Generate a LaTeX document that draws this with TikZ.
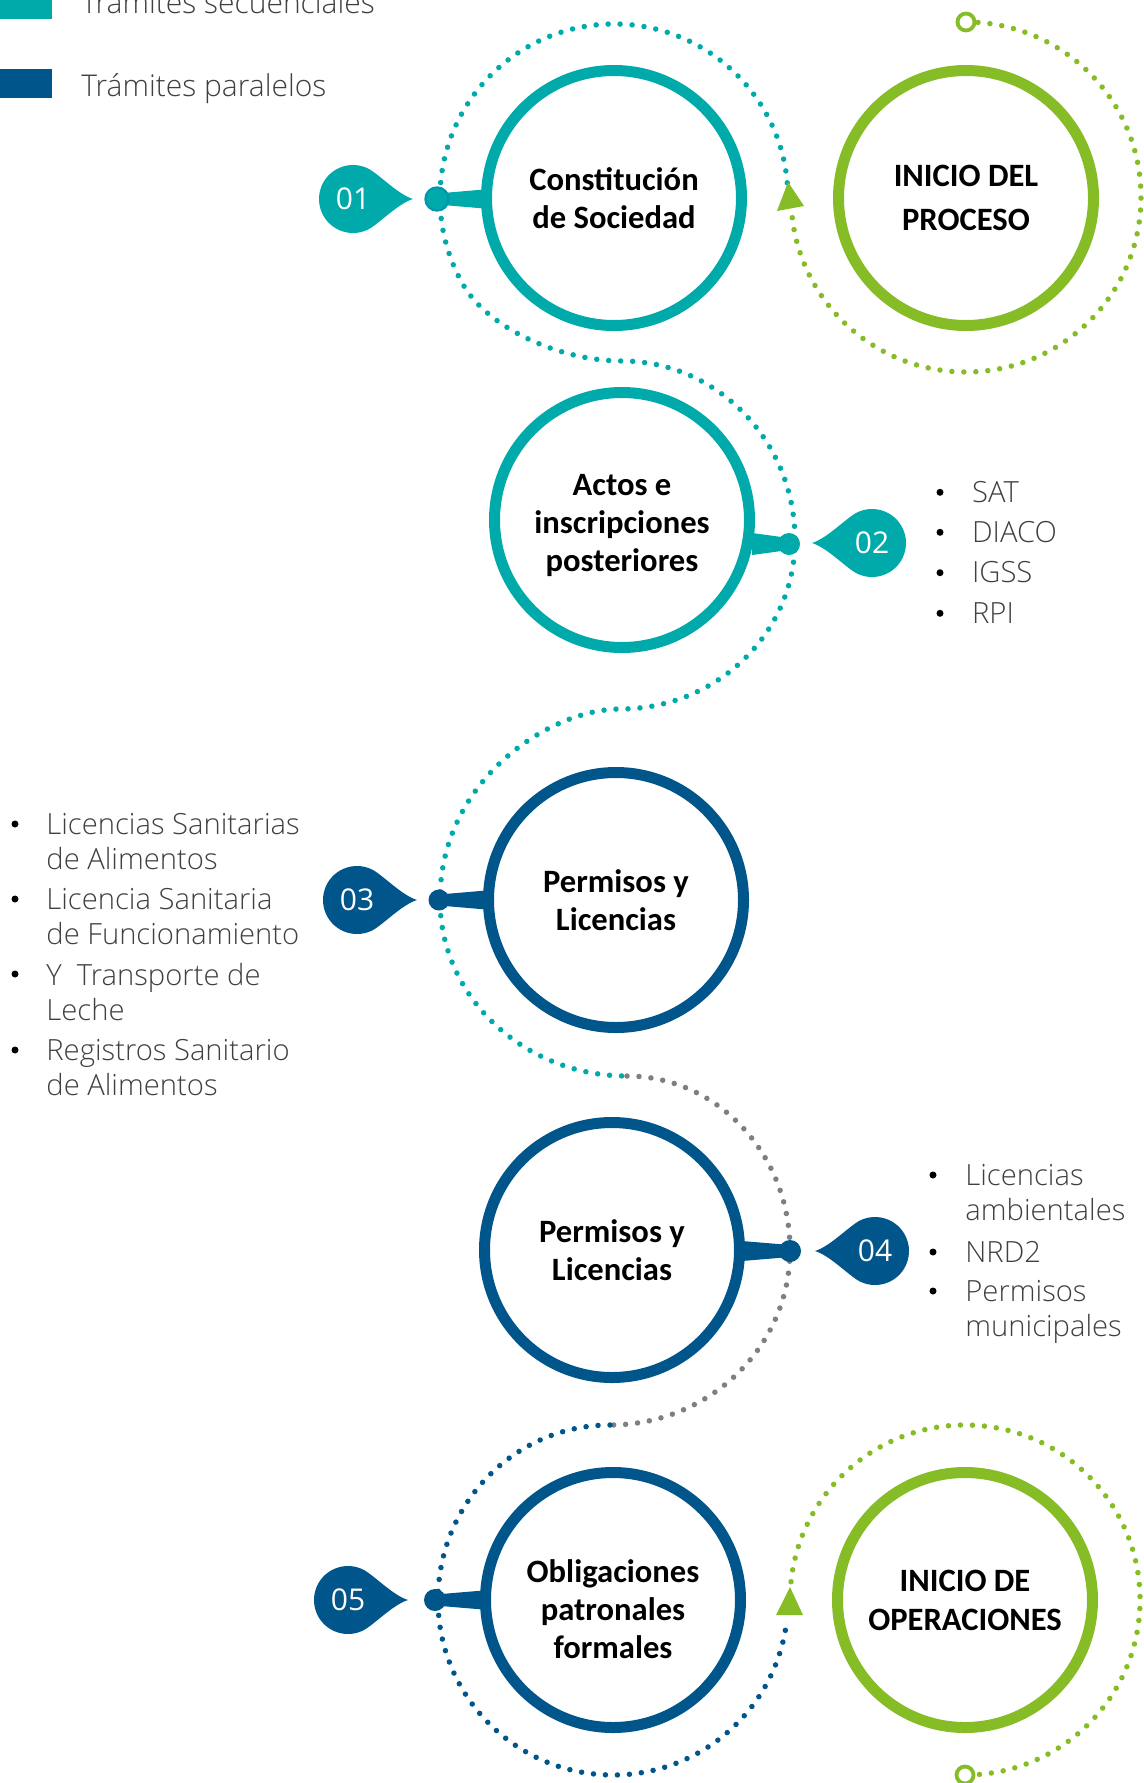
\documentclass[tikz,border=0pt]{standalone}
\usepackage{fontspec}
\setmainfont{Open Sans}
\newfontfamily\calibfont{Carlito}
\IfFontExistsTF{Open Sans Light}{\newfontfamily\lightfont{Open Sans Light}}{\newfontfamily\lightfont{Open Sans}}
\definecolor{tealc}{HTML}{00AAAA}
\definecolor{tealdk}{HTML}{0098AE}
\definecolor{bluec}{HTML}{00558A}
\definecolor{greenc}{HTML}{86BC25}
\definecolor{grayc}{HTML}{7F7F7F}
\definecolor{textc}{HTML}{404040}
\newcommand\drawpin[4]{%
  \fill[#4, shift={(#1,#2)}, xscale=#3] (60,0) .. controls (44,-5) and (25.3,-25.7) .. (14.37,-30.81)
    arc[start angle=-65, end angle=-295, radius=34]
    .. controls (25.3,25.7) and (44,5) .. (60,0) -- cycle;}
\tikzset{
  ring/.style={circle, draw=#1, line width=5.5pt, minimum size=127.5pt, inner sep=0pt, fill=white,
    align=center, font=\calibfont\bfseries\fontsize{16.3}{19}\selectfont},
  dots/.style={line width=2.75pt, line cap=round, dash pattern=on 0pt off 6pt},
  num/.style={text=white, font=\fontsize{15}{17}\selectfont, inner sep=0pt},
  item/.style={anchor=base west, inner sep=0pt, align=left, text=textc,
    font=\lightfont\fontsize{14.6}{17.5}\selectfont},
  legend/.style={anchor=base west, inner sep=0pt, text=textc,
    font=\lightfont\fontsize{15}{18}\selectfont},
}
\begin{document}
\begin{tikzpicture}[x=0.5pt,y=-0.5pt]
\useasboundingbox (0,0) rectangle (1144,1783);

% legend
\fill[tealc] (0,-10) rectangle (52,19);
\node[legend] (leg1) at (81,13) {Trámites secuenciales};
\fill[bluec] (0,69) rectangle (52,98);
\node[legend] (leg2) at (81,96.7) {Trámites paralelos};

% dotted route
\draw[dots, greenc] (966,22) arc[start angle=-90, end angle=175, radius=175];
\draw[dots, tealc] (787.3,182.8) arc[start angle=-5, end angle=-210, radius=174]
  .. controls (488,328) and (560,361) .. (622,361)
  .. controls (717,361) and (795,441) .. (795,540)
  .. controls (795,633) and (717,709) .. (620,709)
  .. controls (550,709) and (440,780) .. (440,900)
  .. controls (440,997) and (524,1076) .. (627,1076);
\draw[dots, grayc] (627,1076) .. controls (717,1076) and (790,1154) .. (790,1250)
  .. controls (790,1347) and (709,1425) .. (610,1425);
\draw[dots, bluec] (610,1425) .. controls (515,1425) and (438,1503) .. (438,1600)
  arc[start angle=180, end angle=7.5, radius=175];
\draw[dots, greenc] (791,1581.7) arc[start angle=186, end angle=450, radius=175];

% start / end markers and arrows
\coordinate (s0) at (966,22);
\coordinate (e0) at (965,1775);
\draw[greenc, line width=1.9pt, fill=white] (s0) circle[radius=8.5];
\draw[greenc, line width=1.9pt, fill=white] (e0) circle[radius=8.5];
\fill[greenc] (788,182) -- (777,211) -- (804,206) -- cycle;
\fill[greenc] (790,1587) -- (776,1615) -- (803,1615) -- cycle;

% rings
\node[ring=greenc, font=\calibfont\bfseries\fontsize{16.3}{22}\selectfont] (c0) at (966,198) {INICIO DEL\\PROCESO};
\node[ring=tealc] (c1) at (614,198) {Constitución\\de Sociedad};
\node[ring=tealc] (c2) at (622,520) {\rule{0pt}{16pt}Actos e\\inscripciones\\posteriores};
\node[ring=bluec] (c3) at (616,900) {Permisos y\\Licencias};
\node[ring=bluec] (c4) at (612,1250) {Permisos y\\Licencias};
\node[ring=bluec] (c5) at (613,1600) {\rule{0pt}{21pt}Obligaciones\\patronales\\formales};
\node[ring=greenc, font=\calibfont\bfseries\fontsize{16.3}{19.5}\selectfont] (c6) at (965,1600) {INICIO DE\\OPERACIONES};

% connector dots
\coordinate (d1) at (437,199);
\coordinate (d2) at (789,544);
\coordinate (d3) at (439,900);
\coordinate (d4) at (790,1251);
\coordinate (d5) at (435,1600);

\fill[tealc] ([shift={(0,-5.5)}]d1) -- ([shift={(3,-9.5)}]c1.west|-d1) -- ([shift={(3,9.5)}]c1.west|-d1) -- ([shift={(0,5.5)}]d1) -- cycle;
\filldraw[fill=tealc, draw=tealdk, line width=1.2pt] (d1) circle[radius=11.5];
\fill[tealc] ([shift={(0,-6)}]d2) -- ([shift={(-3,-11)}]c2.east|-d2) -- ([shift={(-3,11)}]c2.east|-d2) -- ([shift={(0,6)}]d2) -- cycle;
\fill[tealc] (d2) circle[radius=11];
\fill[bluec] ([shift={(0,-5.5)}]d3) -- ([shift={(3,-9.5)}]c3.west|-d3) -- ([shift={(3,9.5)}]c3.west|-d3) -- ([shift={(0,5.5)}]d3) -- cycle;
\fill[bluec] (d3) circle[radius=10.5];
\fill[bluec] ([shift={(0,-6)}]d4) -- ([shift={(-3,-10)}]c4.east|-d4) -- ([shift={(-3,10)}]c4.east|-d4) -- ([shift={(0,6)}]d4) -- cycle;
\fill[bluec] (d4) circle[radius=11];
\fill[bluec] ([shift={(0,-5.5)}]d5) -- ([shift={(3,-9.5)}]c5.west|-d5) -- ([shift={(3,9.5)}]c5.west|-d5) -- ([shift={(0,5.5)}]d5) -- cycle;
\fill[bluec] (d5) circle[radius=11];

% number pins
\drawpin{353}{199}{1}{tealc}
\node[num] (p1) at (353,199) {01};
\drawpin{872}{543}{-1}{tealc}
\node[num] (p2) at (872,543) {02};
\drawpin{357}{900}{1}{bluec}
\node[num] (p3) at (357,900) {03};
\drawpin{875}{1251}{-1}{bluec}
\node[num] (p4) at (875,1251) {04};
\drawpin{348}{1600}{1}{bluec}
\node[num] (p5) at (348,1600) {05};

% lists (multi-line nodes are placed at the baseline of their last line)
\foreach \yy in {492.3,532.3,572.7,613.3} \fill (940,\yy) circle[radius=3.5];
\node[item] (l21) at (971.7,502.3) {SAT};
\node[item] (l22) at (971.7,542.3) {DIACO};
\node[item] (l23) at (971.7,582.7) {IGSS};
\node[item] (l24) at (971.7,623.3) {RPI};

\foreach \yy in {824,899,974,1050} \fill (15,\yy) circle[radius=3.5];
\node[item] (l31) at (46,869) {Licencias Sanitarias\\de Alimentos};
\node[item] (l32) at (46,944) {Licencia Sanitaria\\de Funcionamiento};
\node[item] (l33) at (46,1020) {Y\ \ Transporte de\\Leche};
\node[item] (l34) at (46,1095) {Registros Sanitario\\de Alimentos};

\foreach \yy in {1175,1252,1291} \fill (933,\yy) circle[radius=3.5];
\node[item] (l41) at (965,1220) {Licencias\\ambientales};
\node[item] (l42) at (965,1262) {NRD2};
\node[item] (l43) at (965,1336) {Permisos\\municipales};
\end{tikzpicture}
\end{document}
